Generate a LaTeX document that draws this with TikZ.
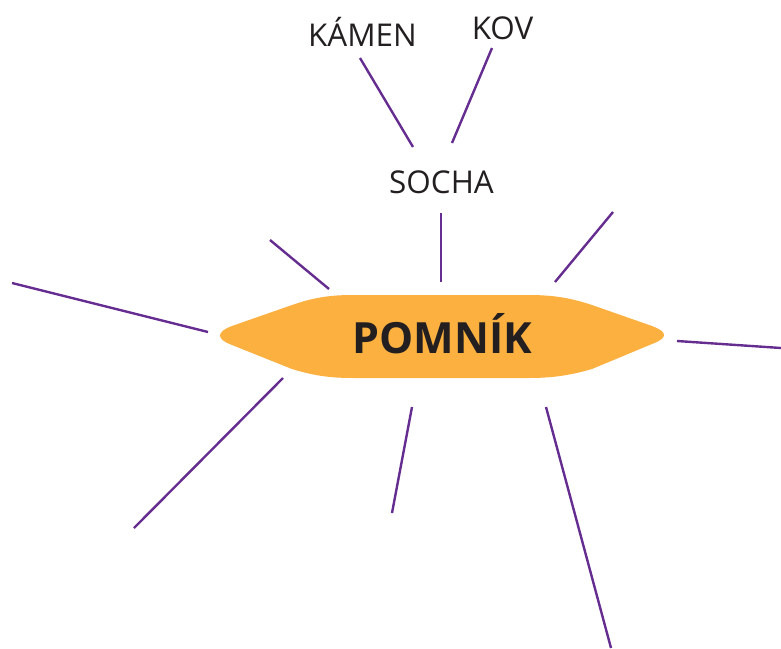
\documentclass[tikz,border=0pt]{standalone}
\usepackage{fontspec}
\setmainfont{Open Sans}
\definecolor{lineviolet}{HTML}{662D91}
\definecolor{bloborange}{HTML}{FBB040}
\definecolor{inkgray}{HTML}{231F20}
\begin{document}
\begin{tikzpicture}[x=1pt,y=-1pt,
  link/.style={draw=lineviolet,line width=2.4pt},
  word/.style={anchor=base,inner sep=0pt,text=inkgray,font=\fontsize{31.4}{35}\selectfont},
  mainword/.style={anchor=base,inner sep=0pt,text=inkgray,font=\bfseries\fontsize{43}{49}\selectfont}]
\useasboundingbox (0,0) rectangle (781,648);
% central shape
\fill[bloborange] (232,326) -- (292,305) .. controls (318,296) and (335,295) .. (355,295)
  -- (528,295) .. controls (550,295) and (568,297) .. (592,305)
  -- (652,326) .. controls (668,332) and (668,338) .. (652,344)
  -- (592,369) .. controls (568,376) and (550,378) .. (528,378)
  -- (355,378) .. controls (335,378) and (318,377) .. (292,369)
  -- (232,345) .. controls (216,339) and (216,332) .. (232,326) -- cycle;
\node[mainword] (pomnik) at (442.5,353) {POMNÍK};
\node[word] (socha) at (441.5,193.3) {SOCHA};
\node[word] (kamen) at (362.5,46.7) {KÁMEN};
\node[word] (kov) at (502.5,39.3) {KOV};
% line ends
\coordinate (ka) at (360,58);   \coordinate (kb) at (413,147);
\coordinate (va) at (492,48);   \coordinate (vb) at (452,143);
\coordinate (sa) at (441,213);  \coordinate (sb) at (441,282);
\coordinate (ula) at (270,240); \coordinate (ulb) at (329,289);
\coordinate (ura) at (613,212); \coordinate (urb) at (555,282);
\coordinate (la) at (12,283);   \coordinate (lb) at (208,332);
\coordinate (ra) at (677,341);  \coordinate (rb) at (781,348);
\coordinate (lla) at (283,378); \coordinate (llb) at (134,528);
\coordinate (lma) at (412,407); \coordinate (lmb) at (392,513);
\coordinate (lra) at (546,407); \coordinate (lrb) at (611,648);
\draw[link] (ka) -- (kb);
\draw[link] (va) -- (vb);
\draw[link] (sa) -- (sb);
\draw[link] (ula) -- (ulb);
\draw[link] (ura) -- (urb);
\draw[link] (la) -- (lb);
\draw[link] (ra) -- (rb);
\draw[link] (lla) -- (llb);
\draw[link] (lma) -- (lmb);
\draw[link] (lra) -- (lrb);
\end{tikzpicture}
\end{document}
